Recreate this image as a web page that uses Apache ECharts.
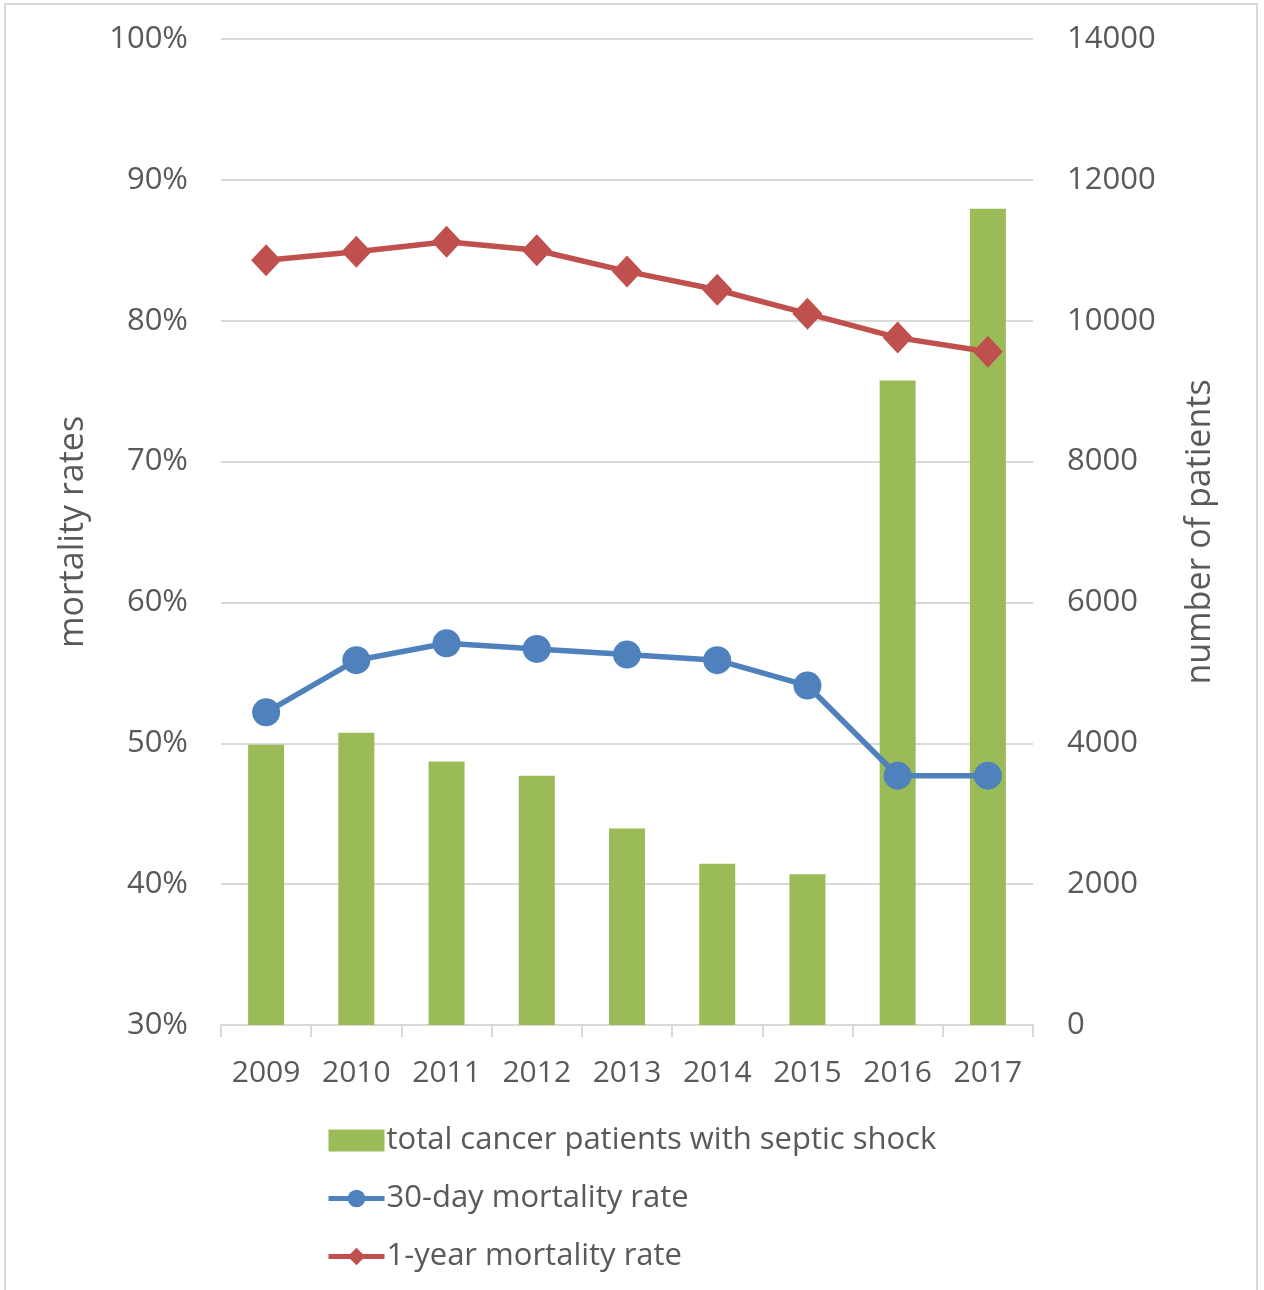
<!DOCTYPE html>
<html>
<head>
<meta charset="utf-8">
<script src="https://cdn.jsdelivr.net/npm/echarts@6/dist/echarts.min.js"></script>
<style>
  html, body { margin: 0; padding: 0; background: #fff; }
  #chart { width: 1264px; height: 1290px; }
</style>
</head>
<body>
<div id="chart"></div>
<script>
// Years on the category axis
const years = ['2009', '2010', '2011', '2012', '2013', '2014', '2015', '2016', '2017'];
// Number of cancer patients with septic shock per year (right axis)
const totalPatients = [3980, 4150, 3740, 3540, 2790, 2290, 2140, 9150, 11590];
// Mortality rates in percent (left axis)
const mortality30Day = [52.2, 55.9, 57.1, 56.7, 56.3, 55.9, 54.1, 47.7, 47.7];
const mortality1Year = [84.3, 84.9, 85.6, 85.0, 83.5, 82.2, 80.5, 78.8, 77.8];

const FONT = '"Open Sans", "Noto Sans", sans-serif';
const TEXT = '#595959';
const GRID_LINE = '#d9d9d9';
const TICK_SIZE = 31;
const NAME_SIZE = 34;

const chart = echarts.init(document.getElementById('chart'), null, { renderer: 'canvas' });

chart.setOption({
  backgroundColor: '#ffffff',
  animation: false,
  textStyle: { fontFamily: FONT, color: TEXT },
  graphic: [{
    type: 'rect',
    shape: { x: 5, y: 4, width: 1252, height: 1300 },
    style: { fill: 'none', stroke: GRID_LINE, lineWidth: 2 },
    z: -10
  }],
  grid: { left: 221, right: 231, top: 39, bottom: 265 },
  legend: {
    orient: 'vertical',
    left: 326,
    top: 1125,
    padding: 0,
    itemGap: 27,
    itemWidth: 56,
    itemHeight: 22,
    lineStyle: { width: 5 },
    textStyle: { fontFamily: FONT, fontSize: TICK_SIZE, lineHeight: 31, color: TEXT, padding: [0, 0, 0, -3] },
    data: [
      { name: 'total cancer patients with septic shock', icon: 'rect' },
      { name: '30-day mortality rate' },
      { name: '1-year mortality rate' }
    ]
  },
  xAxis: {
    type: 'category',
    data: years,
    boundaryGap: true,
    axisLine: { lineStyle: { color: GRID_LINE, width: 2 } },
    axisTick: { show: true, interval: 0, length: 12, lineStyle: { color: GRID_LINE, width: 2 } },
    axisLabel: { interval: 0, fontFamily: FONT, fontSize: 30, color: TEXT, margin: 33 }
  },
  yAxis: [
    {
      type: 'value',
      min: 30, max: 100, interval: 10,
      name: 'mortality rates',
      nameLocation: 'middle',
      nameGap: 131,
      nameRotate: 90,
      nameTextStyle: { fontFamily: FONT, fontSize: NAME_SIZE, color: TEXT },
      axisLine: { show: false },
      axisTick: { show: false },
      splitLine: { lineStyle: { color: GRID_LINE, width: 2 } },
      axisLabel: { fontFamily: FONT, fontSize: TICK_SIZE, color: TEXT, margin: 33, formatter: '{value}%' }
    },
    {
      type: 'value',
      min: 0, max: 14000, interval: 2000,
      name: 'number of patients',
      nameLocation: 'middle',
      nameGap: 150,
      nameRotate: 90,
      nameTextStyle: { fontFamily: FONT, fontSize: NAME_SIZE, color: TEXT },
      axisLine: { show: false },
      axisTick: { show: false },
      splitLine: { show: false },
      axisLabel: { fontFamily: FONT, fontSize: TICK_SIZE, color: TEXT, margin: 34, formatter: (v) => String(v) }
    }
  ],
  series: [
    {
      name: 'total cancer patients with septic shock',
      type: 'bar',
      yAxisIndex: 1,
      data: totalPatients,
      barWidth: 36,
      itemStyle: { color: '#9bbb59' },
      z: 1
    },
    {
      name: '30-day mortality rate',
      type: 'line',
      yAxisIndex: 0,
      data: mortality30Day,
      symbol: 'circle',
      symbolSize: 28,
      lineStyle: { color: '#4f81bd', width: 5.5 },
      itemStyle: { color: '#4f81bd' },
      z: 3
    },
    {
      name: '1-year mortality rate',
      type: 'line',
      yAxisIndex: 0,
      data: mortality1Year,
      symbol: 'diamond',
      symbolSize: [30, 32],
      lineStyle: { color: '#c0504d', width: 5.5 },
      itemStyle: { color: '#c0504d' },
      z: 3
    }
  ]
});
</script>
</body>
</html>
